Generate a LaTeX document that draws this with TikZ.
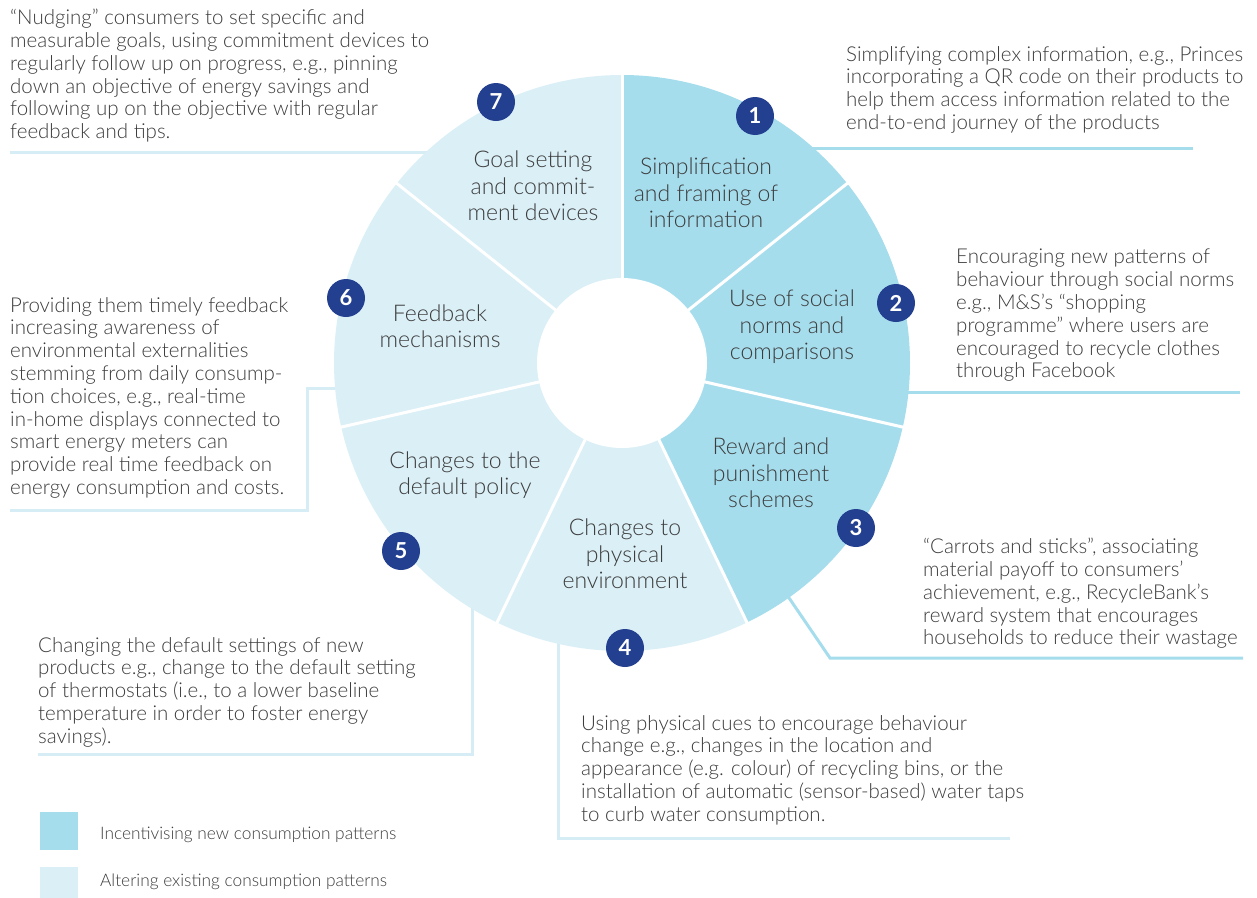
\documentclass[tikz,border=0pt]{standalone}
\usepackage{fontspec}
\IfFontExistsTF{Lato Light}{\setmainfont{Lato Light}}{\setmainfont{Lato}}
\newfontfamily\numfont{Lato}
\definecolor{darkc}{HTML}{A6DDED}
\definecolor{lightc}{HTML}{DAEFF6}
\definecolor{lightlinkc}{HTML}{D6EDF5}
\definecolor{numblue}{HTML}{233F8F}
\definecolor{txt}{HTML}{3C3C3C}
\begin{document}
\begin{tikzpicture}[x=1pt,y=-1pt,
  ann/.style={anchor=north west, inner sep=0pt, align=left, text=txt, font=\fontsize{20.5}{22.8}\selectfont},
  seglabel/.style={align=center, inner sep=0pt, text=txt, font=\fontsize{23}{26.5}\selectfont},
  num/.style={circle, fill=numblue, text=white, minimum size=38pt, inner sep=0pt, font=\numfont\bfseries\fontsize{22}{22}\selectfont},
  darklink/.style={draw=darkc, line width=3pt},
  lightlink/.style={draw=lightlinkc, line width=3pt},
  legbox/.style={minimum size=38pt, inner sep=0pt, anchor=north west},
  legtext/.style={anchor=west, inner sep=0pt, text=txt, font=\fontsize{17.3}{20}\selectfont}]
\useasboundingbox (0,0) rectangle (1257,897);

% annotation texts
\node[ann] (a7) at (10,9) {“Nudging” consumers to set specific and\\
measurable goals, using commitment devices to\\
regularly follow up on progress, e.g., pinning\\
down an objective of energy savings and\\
following up on the objective with regular\\
feedback and tips.};
\node[ann] (a1) at (846,46) {Simplifying complex information, e.g., Princes\\
incorporating a QR code on their products to\\
help them access information related to the\\
end-to-end journey of the products};
\node[ann] (a2) at (956,249) {Encouraging new patterns of\\
behaviour through social norms\\
e.g., M\&S’s “shopping\\
programme” where users are\\
encouraged to recycle clothes\\
through Facebook};
\node[ann] (a3) at (923,538) {“Carrots and sticks”, associating\\
material payoff to consumers’\\
achievement, e.g., RecycleBank’s\\
reward system that encourages\\
households to reduce their wastage};
\node[ann] (a4) at (581,715) {Using physical cues to encourage behaviour\\
change e.g., changes in the location and\\
appearance (e.g. colour) of recycling bins, or the\\
installation of automatic (sensor-based) water taps\\
to curb water consumption.};
\node[ann] (a5) at (38,637) {Changing the default settings of new\\
products e.g., change to the default setting\\
of thermostats (i.e., to a lower baseline\\
temperature in order to foster energy\\
savings).};
\node[ann] (a6) at (10,297) {Providing them timely feedback\\
increasing awareness of\\
environmental externalities\\
stemming from daily consump-\\
tion choices, e.g., real-time\\
in-home displays connected to\\
smart energy meters can\\
provide real time feedback on\\
energy consumption and costs.};

% connector end points
\coordinate (s7) at (440,152); \coordinate (e7) at (10,152);
\coordinate (s1) at (800,148); \coordinate (e1) at (1193,148);
\coordinate (s2) at (895,392); \coordinate (e2) at (1240,392);
\coordinate (s3) at (785,592); \coordinate (k3) at (830,658); \coordinate (e3) at (1243,658);
\coordinate (s4) at (558,630); \coordinate (k4) at (558,838); \coordinate (e4) at (1010,838);
\coordinate (s5) at (472,600); \coordinate (k5) at (472,754); \coordinate (e5) at (38,754);
\coordinate (s6) at (345,388); \coordinate (k6) at (307,388); \coordinate (j6) at (307,510); \coordinate (e6) at (10,510);

\draw[lightlink] (s7) -- (e7);
\draw[darklink] (s1) -- (e1);
\draw[darklink] (s2) -- (e2);
\draw[darklink] (s3) -- (k3) -- (e3);
\draw[lightlink] (s4) -- (k4) -- (e4);
\draw[lightlink] (s5) -- (k5) -- (e5);
\draw[lightlink] (s6) -- (k6) -- (j6) -- (e6);

% ring
\begin{scope}[shift={(622,363)}, yscale=-1]
  \foreach \i/\c in {1/darkc,2/darkc,3/darkc,4/lightc,5/lightc,6/lightc,7/lightc} {
    \pgfmathsetmacro\a{90-(\i-1)*360/7}
    \pgfmathsetmacro\b{90-\i*360/7}
    \fill[\c] (0,0) -- (\a:288) arc[start angle=\a, end angle=\b, radius=288] -- cycle;
  }
  \foreach \i in {0,...,6} \draw[white, line width=3pt] (0,0) -- ({90-\i*360/7}:292);
  \fill[white] (0,0) circle[radius=85];
\end{scope}

% number badges
\node[num] (n1) at (755,116) {1};
\node[num] (n2) at (896,303) {2};
\node[num] (n3) at (856,528) {3};
\node[num] (n4) at (625,648) {4};
\node[num] (n5) at (401,551) {5};
\node[num] (n6) at (346,298) {6};
\node[num] (n7) at (496,102) {7};

% segment labels
\node[seglabel] (l1) at (706,193) {Simplification\\and framing of\\information};
\node[seglabel] (l2) at (792,327) {Use of social\\norms and\\comparisons};
\node[seglabel] (l3) at (771,473) {Reward and\\punishment\\schemes};
\node[seglabel] (l4) at (625,554) {Changes to\\physical\\environment};
\node[seglabel] (l5) at (465,475) {Changes to the\\default policy};
\node[seglabel] (l6) at (440,326) {Feedback\\mechanisms};
\node[seglabel] (l7) at (533,186) {Goal setting\\and commit-\\ment devices};

% legend
\node[legbox, fill=darkc] (g1) at (40,812) {};
\node[legbox, fill=lightc] (g2) at (40,867) {};
\node[legtext] (t1) at (100,835) {Incentivising new consumption patterns};
\node[legtext] (t2) at (100,882) {Altering existing consumption patterns};
\end{tikzpicture}
\end{document}
